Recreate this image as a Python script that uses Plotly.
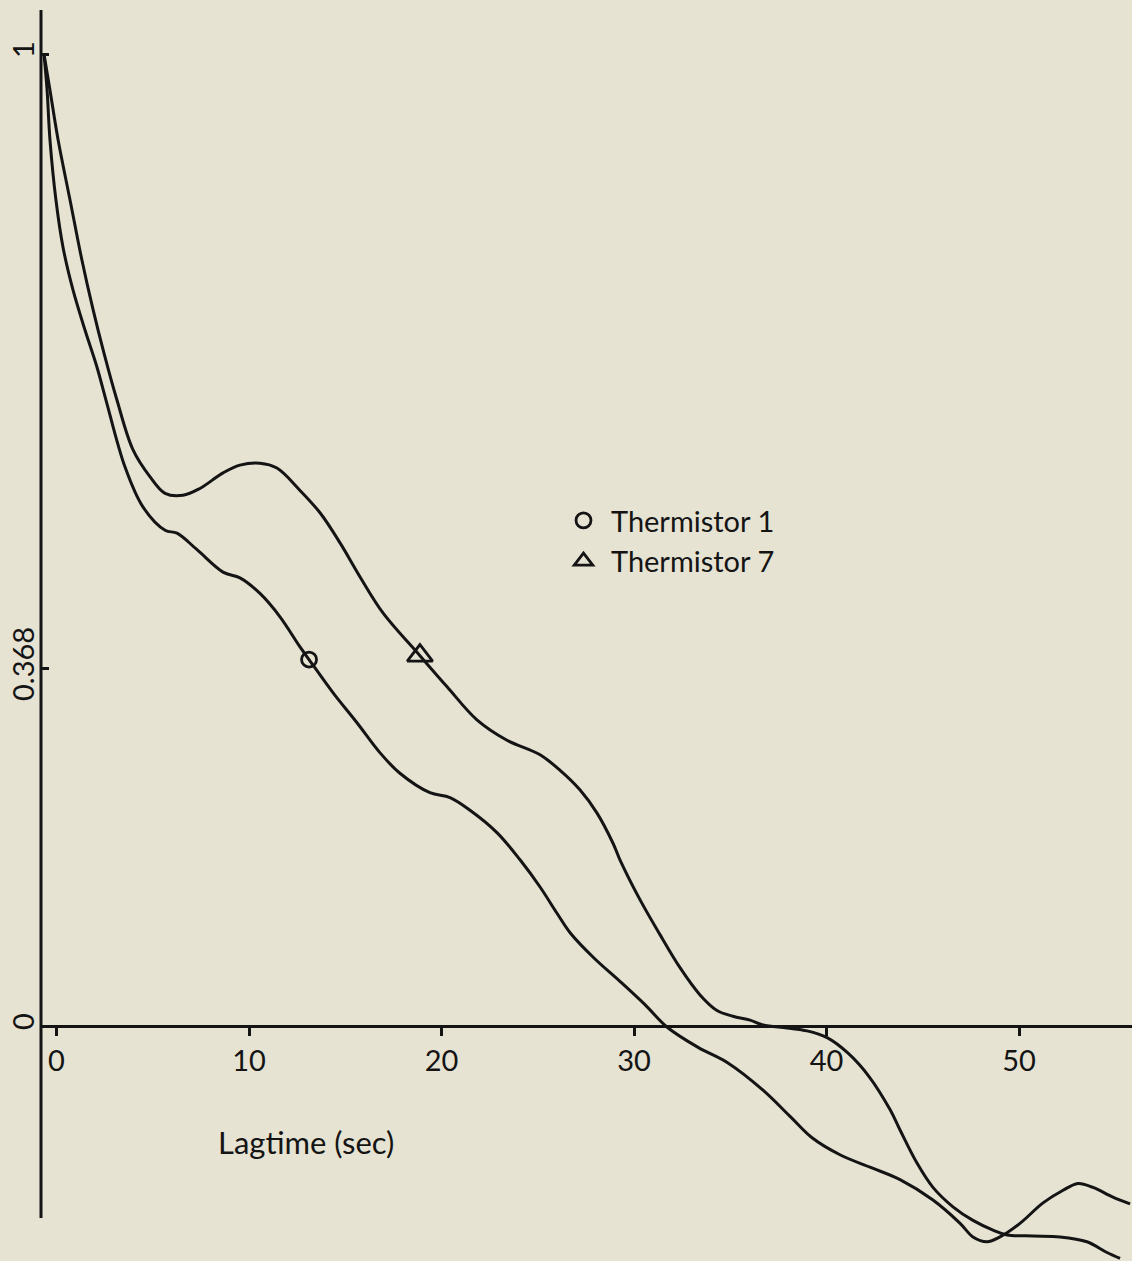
import plotly.graph_objects as go

# ---- data (lag in seconds, normalized autocorrelation) ----
t1_lag = [-0.65, -0.49, -0.34, -0.03, 0.34, 0.86, 1.48, 2.10, 2.57, 3.56, 4.49, 5.64, 6.26, 7.30,
          8.65, 9.53, 10.57, 11.61, 12.65, 13.12, 14.36, 15.61, 16.81, 17.84, 19.40, 20.44, 21.48,
          22.88, 24.08, 25.12, 26.00, 26.68, 27.92, 29.27, 30.57, 31.71, 33.33, 34.88, 36.70,
          38.16, 39.25, 40.75, 42.36, 43.82, 45.53, 46.94, 47.61, 48.34, 49.01, 50.05, 51.25,
          52.29, 53.06, 53.84, 54.88, 55.77]
t1_val = [1.000, 0.963, 0.912, 0.850, 0.801, 0.757, 0.716, 0.678, 0.644, 0.575, 0.534, 0.510, 0.507,
          0.490, 0.467, 0.461, 0.445, 0.421, 0.390, 0.377, 0.343, 0.312, 0.281, 0.260, 0.240, 0.235,
          0.222, 0.199, 0.171, 0.143, 0.116, 0.096, 0.070, 0.046, 0.022, -0.001, -0.022, -0.038,
          -0.066, -0.094, -0.115, -0.133, -0.146, -0.158, -0.179, -0.203, -0.217, -0.222, -0.217,
          -0.203, -0.182, -0.169, -0.162, -0.166, -0.176, -0.183]

t7_lag = [-0.65, -0.34, 0.08, 0.70, 1.32, 1.90, 2.47, 3.14, 3.97, 4.86, 5.64, 6.57, 7.45, 8.65, 9.53,
          10.57, 11.45, 12.65, 13.69, 14.73, 15.77, 16.96, 18.88, 20.29, 21.84, 23.40, 25.12, 26.16,
          27.19, 28.08, 28.91, 29.27, 30.31, 31.35, 32.39, 33.43, 34.31, 35.14, 36.03, 36.70,
          37.95, 38.99, 40.03, 41.12, 42.21, 43.30, 43.82, 44.70, 45.53, 46.57, 47.61, 48.65, 49.38,
          50.73, 52.13, 53.53, 54.57, 55.25]
t7_val = [1.000, 0.963, 0.912, 0.850, 0.788, 0.737, 0.692, 0.644, 0.593, 0.565, 0.548, 0.546, 0.553,
          0.569, 0.577, 0.579, 0.574, 0.551, 0.528, 0.497, 0.462, 0.425, 0.381, 0.349, 0.315, 0.294,
          0.279, 0.263, 0.243, 0.219, 0.188, 0.171, 0.130, 0.094, 0.060, 0.032, 0.016, 0.010,
          0.006, 0.001, -0.002, -0.005, -0.012, -0.028, -0.052, -0.086, -0.107, -0.141, -0.166,
          -0.186, -0.200, -0.210, -0.215, -0.216, -0.217, -0.222, -0.233, -0.239]

t1_mark_lag = [13.12]
t1_mark_val = [0.377]
t7_mark_lag = [18.88]
t7_mark_val = [0.381]

x_ticks = [0, 10, 20, 30, 40, 50]
y_ticks = [0, 0.368, 1]
y_ticktext = ["0", "0.368", "1"]

series_names = ["Thermistor 1", "Thermistor 7"]
x_title = "Lagtime (sec)"

# ---- style ----
INK = "#141414"
BG = "#e6e3d3"
FONT = "Lato"
FS = 29
W, H = 1132, 1261

fig = go.Figure()
fig.add_trace(go.Scatter(x=t1_lag, y=t1_val, mode="lines", line=dict(color=INK, width=3, shape="spline", smoothing=1.0),
                         showlegend=False, hoverinfo="skip"))
fig.add_trace(go.Scatter(x=t7_lag, y=t7_val, mode="lines", line=dict(color=INK, width=3, shape="spline", smoothing=1.0),
                         showlegend=False, hoverinfo="skip"))
fig.add_trace(go.Scatter(x=t1_mark_lag, y=t1_mark_val, mode="markers", name=series_names[0],
                         marker=dict(symbol="circle-open", size=15, color=INK, line=dict(width=2.8, color=INK))))
fig.add_trace(go.Scatter(x=t7_mark_lag, y=t7_mark_val, mode="markers", name=series_names[1],
                         marker=dict(symbol="triangle-up-open", size=22, color=INK, line=dict(width=2.8, color=INK))))

x_left_px, x0_px, x_unit = 41, 56.5, 19.25
y0_px, y_unit = 1026, 972
x_range = [(x_left_px - x0_px) / x_unit, (W - x0_px) / x_unit]
y_range = [(y0_px - H) / y_unit, y0_px / y_unit]

fig.update_layout(
    width=W, height=H,
    margin=dict(l=x_left_px, r=0, t=0, b=0),
    paper_bgcolor=BG, plot_bgcolor=BG,
    font=dict(family=FONT, size=FS, color=INK),
    xaxis=dict(range=x_range, tickvals=x_ticks, ticks="outside", ticklen=8, tickwidth=2.5, tickcolor=INK,
               showline=True, linecolor=INK, linewidth=3, showgrid=False, zeroline=False,
               anchor="free", position=(H - y0_px) / H, ticklabelstandoff=0,
               tickfont=dict(family=FONT, size=FS, color=INK)),
    yaxis=dict(range=y_range, tickvals=y_ticks, ticktext=y_ticktext, ticks="inside", ticklen=8,
               tickwidth=2.5, tickcolor=INK, showline=False, showgrid=False, zeroline=False,
               tickangle=-90, ticklabelstandoff=0, tickfont=dict(family=FONT, size=FS, color=INK)),
    legend=dict(x=(556 - x_left_px) / (W - x_left_px), y=(H - 495) / H, xanchor="left", yanchor="top",
                bgcolor="rgba(0,0,0,0)", font=dict(family=FONT, size=FS, color=INK), itemsizing="trace",
                itemwidth=45, tracegroupgap=0),
    showlegend=True,
)

# vertical axis line (ends before the plot bottom like in the original)
fig.add_shape(type="line", xref="paper", yref="y", x0=0, x1=0, y0=(y0_px - 1218) / y_unit, y1=(y0_px - 10) / y_unit,
              line=dict(color=INK, width=3))

fig.add_annotation(text=x_title, xref="paper", yref="paper", x=(216 - x_left_px) / (W - x_left_px),
                   y=(H - 1142) / H, xanchor="left", yanchor="middle", showarrow=False,
                   font=dict(family=FONT, size=31, color=INK))

fig.write_html("out.html")
